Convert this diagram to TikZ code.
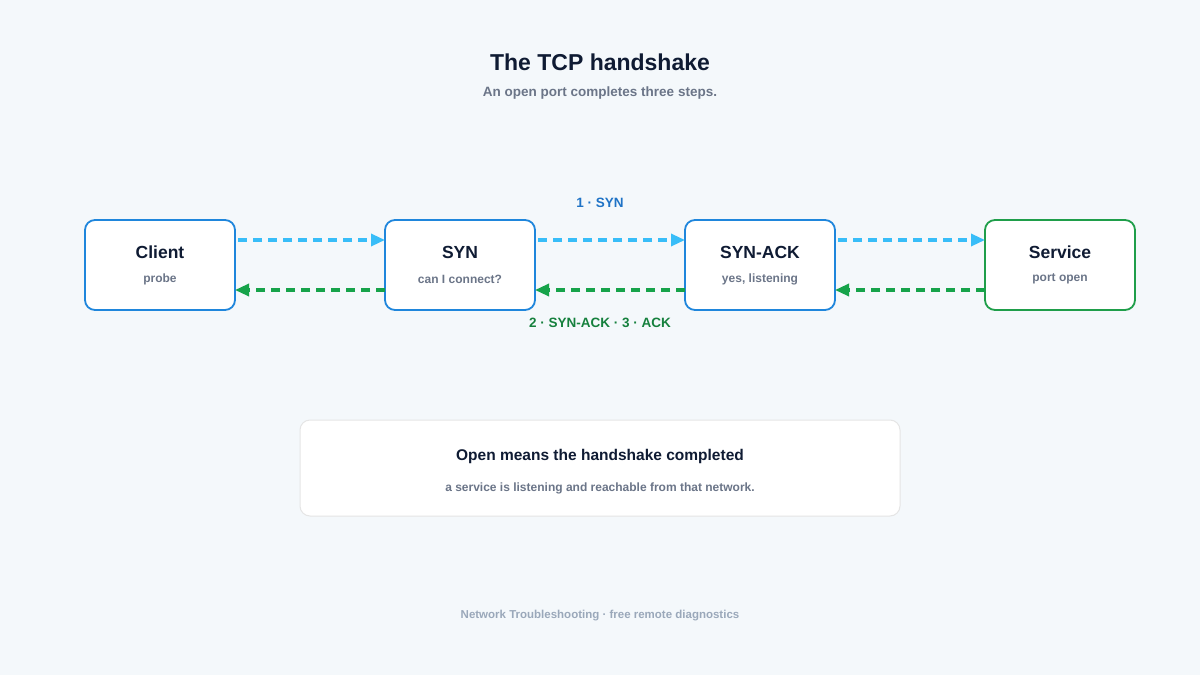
\documentclass[tikz,border=0pt]{standalone}
\usepackage{fontspec}
\setmainfont{Liberation Sans}
\usetikzlibrary{arrows.meta}
\definecolor{bg}{HTML}{F4F8FB}
\definecolor{blueb}{HTML}{1F86DC}
\definecolor{greenb}{HTML}{1F9E4A}
\definecolor{cyanl}{HTML}{38BDF8}
\definecolor{greenl}{HTML}{16A34A}
\definecolor{dark}{HTML}{0F1B33}
\definecolor{grey}{HTML}{6B7588}
\definecolor{lbl}{HTML}{1F73C6}
\definecolor{lblg}{HTML}{15803D}
\definecolor{foot}{HTML}{9AA8BA}
\begin{document}
\begin{tikzpicture}[x=1pt,y=-1pt,
 box/.style={draw=blueb,line width=1.8pt,fill=white,rounded corners=10pt,minimum width=150pt,minimum height=90pt},
 ttl/.style={font=\bfseries\fontsize{17.5}{20}\selectfont,text=dark},
 sub/.style={font=\bfseries\fontsize{12}{14}\selectfont,text=grey},
 fwd/.style={draw=cyanl,line width=3.2pt,dash pattern=on 9pt off 6pt,-{Triangle[length=14pt,width=12pt]}},
 bwd/.style={draw=greenl,line width=3.2pt,dash pattern=on 9pt off 6pt,-{Triangle[length=14pt,width=12pt]}}]
\fill[bg] (0,0) rectangle (1200,675);
\useasboundingbox (0,0) rectangle (1200,675);
\node[font=\bfseries\fontsize{23}{26}\selectfont,text=dark] (t) at (600,62) {The TCP handshake};
\node[font=\bfseries\fontsize{13.5}{16}\selectfont,text=grey] (st) at (600,93) {An open port completes three steps.};
\foreach \n/\x in {c/160,s/460,a/760,v/1060}{
 \coordinate (\n-t) at (\x-75,240);
 \coordinate (\n-b) at (\x+75,290);
 \coordinate (\n-tr) at (\x+75,240);
 \coordinate (\n-bl) at (\x-75,290);
}
\node[box] (c) at (160,265) {};
\node[box] (s) at (460,265) {};
\node[box] (a) at (760,265) {};
\node[box,draw=greenb] (v) at (1060,265) {};
\foreach \n/\x/\a/\b in {c/160/Client/probe,s/460/SYN/can I connect?,a/760/SYN-ACK/{yes, listening},v/1060/Service/port open}{
 \node[ttl] at (\x,252) {\a};
 \node[sub] at (\x,279) {\b};
}
\foreach \p/\q in {c/s,s/a,a/v}{
 \draw[fwd] ([xshift=3pt]\p-tr) -- (\q-t);
 \draw[bwd] (\q-bl) -- (\p-b);
}
\node[font=\bfseries\fontsize{13.5}{16}\selectfont,text=lbl] (l1) at (600,203) {1 · SYN};
\node[font=\bfseries\fontsize{13.5}{16}\selectfont,text=lblg] (l2) at (600,323) {2 · SYN-ACK · 3 · ACK};
\node[draw=black!10,line width=1pt,fill=white,rounded corners=10pt,minimum width=600pt,minimum height=96pt] (n) at (600,468) {};
\node[font=\bfseries\fontsize{15.5}{18}\selectfont,text=dark] at (600,456) {Open means the handshake completed};
\node[sub] at (600,488) {a service is listening and reachable from that network.};
\node[font=\bfseries\fontsize{11.5}{14}\selectfont,text=foot] (f) at (600,616) {Network Troubleshooting · free remote diagnostics};
\end{tikzpicture}
\end{document}
